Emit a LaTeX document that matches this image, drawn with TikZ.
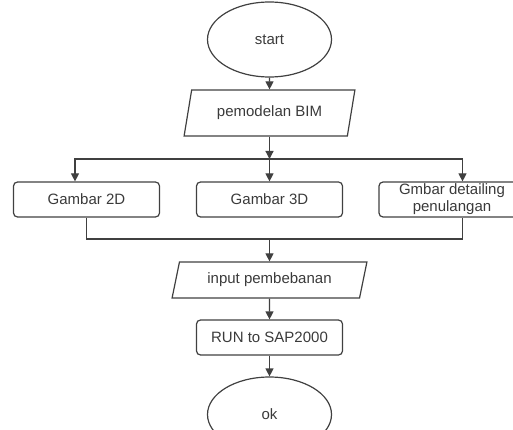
\documentclass[tikz,border=0pt]{standalone}
\usepackage{fontspec}
\setmainfont{Liberation Sans}
\usetikzlibrary{shapes.geometric,arrows.meta}
\definecolor{ln}{HTML}{404040}
\definecolor{tx}{HTML}{3A3A3A}
\begin{document}
\begin{tikzpicture}[x=1pt,y=-1pt,
  every node/.style={text=tx,font=\fontsize{15}{17}\selectfont,inner sep=0pt},
  term/.style={draw=ln,line width=1.2pt,ellipse,minimum width=124pt,minimum height=75pt},
  io/.style={draw=ln,line width=1.2pt,trapezium,trapezium left angle=70,trapezium right angle=110,trapezium stretches=true},
  proc/.style={draw=ln,line width=1.2pt,rounded corners=4pt,minimum width=146pt,minimum height=35pt,align=center},
  conn/.style={draw=ln,line width=1.2pt},
  arr/.style={conn,-{Triangle[width=8pt,length=8pt]}}]
\useasboundingbox (0,0) rectangle (513,430);
\node[term] (start) at (269.5,39.5) {start};
\node[io,minimum width=171pt,minimum height=46pt] (bim) at (269.5,113) {pemodelan BIM};
\node[proc] (g2d) at (86.5,199.5) {Gambar 2D};
\node[proc] (g3d) at (269.5,199.5) {Gambar 3D};
\node[proc] (gdet) at (452,199.5) {Gmbar detailing\\penulangan};
\node[io,minimum width=195pt,minimum height=36pt] (inp) at (269.5,280) {input pembebanan};
\node[proc] (run) at (269.5,337.5) {RUN to SAP2000};
\node[term] (ok) at (269.5,414.5) {ok};
\coordinate (jm) at (269.5,159);
\coordinate (jl) at (75,159);
\coordinate (jr) at (462.5,159);
\coordinate (bl) at (86.5,239);
\coordinate (bm) at (269.5,239);
\coordinate (br) at (462.5,239);
\draw[arr] (start) -- (bim);
\draw[arr] (bim) -- (jm);
\draw[arr] (jm) -- (g3d);
\draw[arr] (jm) -- (jl) -- (g2d.north -| jl);
\draw[arr] (jm) -- (jr) -- (gdet.north -| jr);
\draw[conn] (g2d.south) -- (bl) -- (br) -- (gdet.south -| br);
\draw[arr] (bm) -- (inp);
\draw[arr] (inp) -- (run);
\draw[arr] (run) -- (ok);
\end{tikzpicture}
\end{document}
